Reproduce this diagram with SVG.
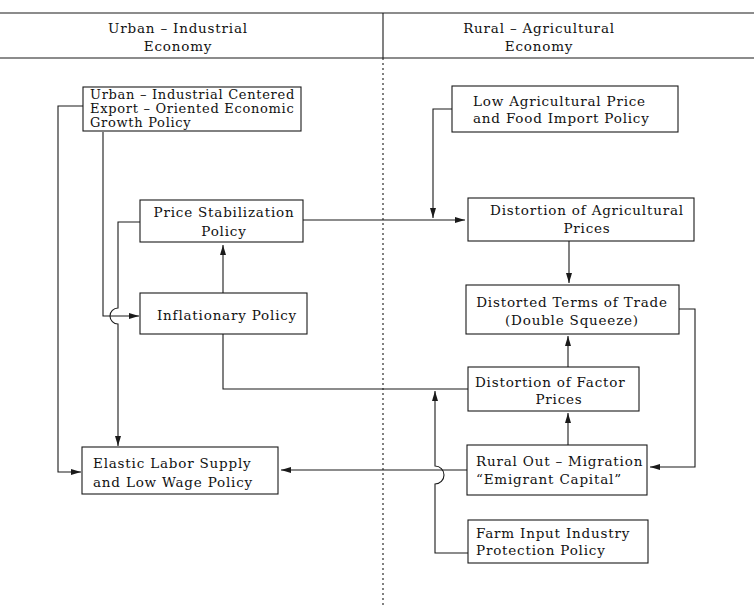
<svg xmlns="http://www.w3.org/2000/svg" width="754" height="606" viewBox="0 0 754 606">
<style>
  .box { fill: #ffffff; stroke: #1a1a1a; stroke-width: 1.1; }
  .t { font-family: "DejaVu Serif", "Liberation Serif", serif; font-size: 13.5px; letter-spacing: 0.8px; fill: #111; }
  .u { font-size: 13px; letter-spacing: 0.7px; }
  .h { font-family: "DejaVu Serif", "Liberation Serif", serif; font-size: 13.5px; letter-spacing: 0.8px; fill: #111; text-anchor: middle; }
  .c { text-anchor: middle; }
  .ln { fill: none; stroke: #1a1a1a; stroke-width: 1.1; }
  .arr { marker-end: url(#ah); }
</style>
<defs>
  <marker id="ah" markerWidth="10" markerHeight="8" refX="10" refY="4" orient="auto" markerUnits="userSpaceOnUse">
    <path d="M0,1 L10,4 L0,7 z" fill="#1a1a1a"/>
  </marker>
</defs>
<rect width="754" height="606" fill="#ffffff"/>

<g id="header">
  <line x1="0" y1="13" x2="754" y2="13" class="ln" stroke-width="1.4"/>
  <line x1="0" y1="58" x2="754" y2="58" class="ln" stroke-width="1.4"/>
  <line x1="383" y1="13" x2="383" y2="58" class="ln"/>
  <line x1="383" y1="58" x2="383" y2="606" class="ln" stroke-dasharray="2,3" stroke-width="1.4"/>
  <text class="h" x="178" y="33">Urban – Industrial</text>
  <text class="h" x="178" y="51">Economy</text>
  <text class="h" x="539" y="33">Rural – Agricultural</text>
  <text class="h" x="539" y="51">Economy</text>
</g>

<g id="connectors">
  <path class="ln arr" d="M83,106 H58 V472 H81"/>
  <path class="ln arr" d="M103,132 V316 H139"/>
  <path class="ln arr" d="M140,222 H118 V308 A8,8 0 0 0 118,324 V446"/>
  <path class="ln arr" d="M223,293 V245"/>
  <path class="ln" d="M223,334 V389 H468"/>
  <path class="ln arr" d="M468,553 H435 V484 A9,9 0 0 0 435,466 V391"/>
  <path class="ln arr" d="M467,470 H281"/>
  <path class="ln arr" d="M568,445 V413"/>
  <path class="ln arr" d="M568,367 V336"/>
  <path class="ln arr" d="M569,241 V283"/>
  <path class="ln arr" d="M303,220 H465"/>
  <path class="ln arr" d="M452,109 H433 V218"/>
  <path class="ln arr" d="M679,309 H695 V467 H650"/>
</g>

<g id="urban-growth">
  <rect class="box" x="83" y="87" width="218" height="44"/>
  <text class="t u" x="90" y="99">Urban – Industrial Centered</text>
  <text class="t u" x="90" y="113">Export – Oriented Economic</text>
  <text class="t u" x="90" y="127">Growth Policy</text>
</g>

<g id="low-ag-price">
  <rect class="box" x="452" y="86" width="226" height="46"/>
  <text class="t" x="473" y="106">Low Agricultural Price</text>
  <text class="t" x="473" y="123">and Food Import Policy</text>
</g>

<g id="price-stab">
  <rect class="box" x="140" y="200" width="163" height="42"/>
  <text class="t c" x="224" y="217">Price Stabilization</text>
  <text class="t c" x="224" y="236">Policy</text>
</g>

<g id="dist-ag-prices">
  <rect class="box" x="468" y="198" width="226" height="43"/>
  <text class="t c" x="587" y="215">Distortion of Agricultural</text>
  <text class="t c" x="587" y="233">Prices</text>
</g>

<g id="inflationary">
  <rect class="box" x="140" y="293" width="167" height="41"/>
  <text class="t c" x="227" y="320">Inflationary Policy</text>
</g>

<g id="terms-of-trade">
  <rect class="box" x="466" y="285" width="213" height="49"/>
  <text class="t c" x="572" y="307">Distorted Terms of Trade</text>
  <text class="t c" x="572" y="325">(Double Squeeze)</text>
</g>

<g id="factor-prices">
  <rect class="box" x="468" y="367" width="171" height="44"/>
  <text class="t" x="475" y="387">Distortion of Factor</text>
  <text class="t c" x="559" y="404">Prices</text>
</g>

<g id="elastic-labor">
  <rect class="box" x="82" y="447" width="196" height="47"/>
  <text class="t" x="93" y="468">Elastic Labor Supply</text>
  <text class="t" x="93" y="487">and Low Wage Policy</text>
</g>

<g id="rural-migration">
  <rect class="box" x="467" y="445" width="180" height="50"/>
  <text class="t" x="476" y="466">Rural Out – Migration</text>
  <text class="t" x="476" y="484">“Emigrant Capital”</text>
</g>

<g id="farm-input">
  <rect class="box" x="468" y="520" width="180" height="43"/>
  <text class="t" x="476" y="538">Farm Input Industry</text>
  <text class="t" x="476" y="555">Protection Policy</text>
</g>
</svg>
